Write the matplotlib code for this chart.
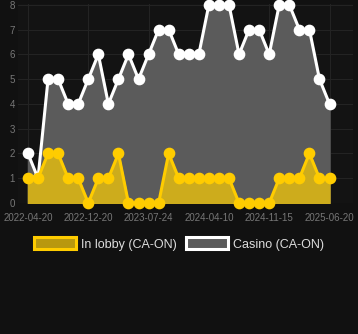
import matplotlib.pyplot as plt
from matplotlib.patches import Patch

# Values
casino = [2, 1, 5, 5, 4, 4, 5, 6, 4, 5, 6, 5, 6, 7, 7, 6, 6, 6, 8, 8, 8, 6, 7, 7, 6, 8, 8, 7, 7, 5, 4]
lobby = [1, 1, 2, 2, 1, 1, 0, 1, 1, 2, 0, 0, 0, 0, 2, 1, 1, 1, 1, 1, 1, 0, 0, 0, 0, 1, 1, 1, 2, 1, 1]
tick_labels = ["2022-04-20", "2022-12-20", "2023-07-24", "2024-04-10", "2024-11-15", "2025-06-20"]

plt.rcParams["font.family"] = ["Liberation Sans", "DejaVu Sans"]

x = list(range(len(casino)))

fig = plt.figure(figsize=(3.58, 3.34), dpi=100, facecolor="#111111")
ax = fig.add_axes([0.05, 0.392, 0.935, 0.596])
ax.set_facecolor("#131313")

# Casino (white line, grey area)
ax.fill_between(x, 0, casino, color="#5b5b5b", zorder=2)
ax.plot(x, casino, color="white", lw=2.2, marker="o", ms=7.4, zorder=3, clip_on=False)

# In lobby (yellow line, gold area)
ax.fill_between(x, 0, lobby, color="#cdac1c", zorder=4)
ax.plot(x, lobby, color="#ffcc00", lw=2.2, marker="o", ms=7.4, zorder=5, clip_on=False)

ax.set_xlim(-1, 32.3)
ax.set_ylim(0, 8.03)
ax.set_xticks(x[::6])
ax.set_xticklabels(tick_labels)
ax.set_yticks(range(0, 9))
ax.tick_params(colors="#777777", labelsize=7, length=0)
ax.tick_params(axis="x", pad=7)
ax.tick_params(axis="y", pad=2)
ax.grid(True, color="#232323", lw=0.8, zorder=0)
for s in ax.spines.values():
    s.set_visible(False)

handles = [
    Patch(facecolor="#b8980f", edgecolor="#ffcc00", lw=2.2, label="In lobby (CA-ON)"),
    Patch(facecolor="#5b5b5b", edgecolor="white", lw=2.2, label="Casino (CA-ON)"),
]
leg = fig.legend(handles=handles, loc="center", bbox_to_anchor=(0.5, 1 - 244 / 334), ncol=2,
                 frameon=False, fontsize=9, handlelength=3.3, handleheight=1.05,
                 columnspacing=0.8, handletextpad=0.4)
for t in leg.get_texts():
    t.set_color("#dddddd")

fig.savefig("out.png", dpi=100, facecolor=fig.get_facecolor())
